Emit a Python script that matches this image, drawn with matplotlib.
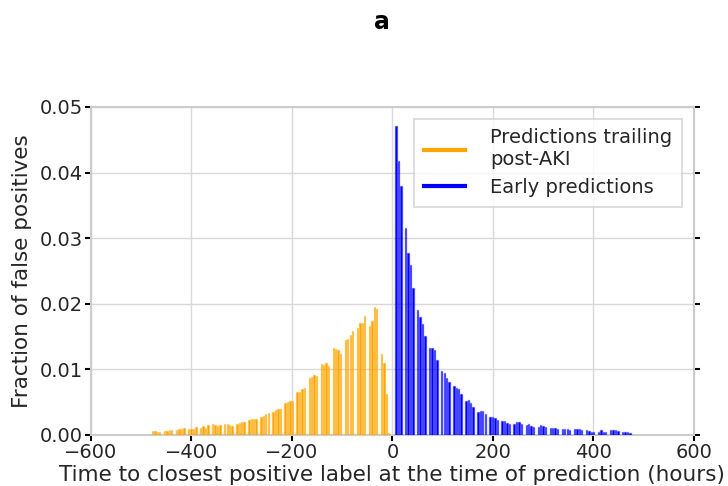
import numpy as np
import matplotlib
matplotlib.use("Agg")
import matplotlib.pyplot as plt
from matplotlib.lines import Line2D

# hours before the AKI label (trailing) and before it (early), 6-hourly samples
trailing_hours = np.arange(-480, 0, 6)
early_hours = np.arange(6, 475, 6)

trailing_frac = [
    0.00056, 0.00053, 0.00046, 0.00046,
    0.00066, 0.00056, 0.00070, 0.00076,
    0.00076, 0.00086, 0.00086, 0.00100,
    0.00096, 0.00096, 0.00096, 0.00120,
    0.00110, 0.00130, 0.00110, 0.00150,
    0.00160, 0.00150, 0.00140, 0.00150,
    0.00160, 0.00160, 0.00150, 0.00140,
    0.00170, 0.00180, 0.00200, 0.00200,
    0.00230, 0.00250, 0.00250, 0.00250,
    0.00280, 0.00290, 0.00320, 0.00340,
    0.00350, 0.00380, 0.00390, 0.00400,
    0.00490, 0.00510, 0.00520, 0.00520,
    0.00650, 0.00650, 0.00700, 0.00720,
    0.00870, 0.00880, 0.00910, 0.00900,
    0.01080, 0.01060, 0.01090, 0.01050,
    0.01320, 0.01310, 0.01290, 0.01240,
    0.01440, 0.01470, 0.01520, 0.01590,
    0.01630, 0.01700, 0.01710, 0.01820,
    0.01660, 0.01730, 0.01950, 0.01920,
    0.01240, 0.01100, 0.00620, 0.00030,
]

early_frac = [
    0.0471, 0.0417, 0.0380,
    0.0315, 0.0278, 0.0259, 0.0224,
    0.0191, 0.0180, 0.0169, 0.0151,
    0.0132, 0.0133, 0.0129, 0.0114,
    0.0097, 0.0095, 0.0087, 0.0081,
    0.0075, 0.0071, 0.0070, 0.0063,
    0.0052, 0.0053, 0.0048, 0.0042,
    0.0035, 0.0036, 0.0036, 0.0032,
    0.0028, 0.0027, 0.0026, 0.0023,
    0.0022, 0.0022, 0.0018, 0.0017,
    0.0017, 0.0020, 0.0020, 0.0017,
    0.0015, 0.0016, 0.0013, 0.0012,
    0.0012, 0.0015, 0.0013, 0.0012,
    0.0010, 0.0010, 0.0010, 0.0009,
    0.0009, 0.0009, 0.0009, 0.0008,
    0.0009, 0.0009, 0.0009, 0.0008,
    0.0007, 0.0006, 0.0005, 0.0004,
    0.0005, 0.0007, 0.0005, 0.0005,
    0.0007, 0.0007, 0.0007, 0.0006,
    0.0005, 0.0004, 0.0004, 0.0003,
]

BIN = 4.8  # 200 bins over [-480, 480]


def bin_centre(t):
    return (np.floor(t / BIN + 1e-9) + 0.5) * BIN


txt = "#262626"
plt.rcParams["font.family"] = ["DejaVu Sans"]

fig = plt.figure(figsize=(7.28, 4.86), dpi=100)
ax = fig.add_axes([0.125, 0.105, 0.828, 0.675])

ax.bar(bin_centre(trailing_hours), trailing_frac, width=2.7, color="orange",
       edgecolor=(1.0, 0.65, 0.0, 0.4), linewidth=1.0, zorder=3)
ax.bar(bin_centre(early_hours), early_frac, width=2.7, color="blue",
       edgecolor=(0.0, 0.0, 1.0, 0.4), linewidth=1.0, zorder=3)

ax.set_xlim(-600, 600)
ax.set_ylim(0, 0.05)
ax.set_xticks(np.arange(-600, 601, 200))
ax.set_yticks(np.arange(0, 0.0501, 0.01))
ax.set_yticklabels(["0.00", "0.01", "0.02", "0.03", "0.04", "0.05"])
ax.grid(True, color="#d9d9d9", linewidth=1.0, zorder=0)
ax.set_axisbelow(True)

for s in ax.spines.values():
    s.set_color("#cccccc")
    s.set_linewidth(1.5)

ax.tick_params(axis="both", direction="out", length=4, width=1.5, color="black",
               labelsize=14, labelcolor=txt, pad=2)
ax.tick_params(axis="y", right=True)

ax.set_xlabel("Time to closest positive label at the time of prediction (hours)",
              fontsize=15.5, color=txt, labelpad=2)
ax.set_ylabel("Fraction of false positives", fontsize=15.5, color=txt, labelpad=5)

handles = [Line2D([], [], color="orange", lw=3),
           Line2D([], [], color="blue", lw=3)]
leg = ax.legend(handles, ["Predictions trailing\npost-AKI", "Early predictions"],
                loc="upper right", fontsize=14, frameon=True, fancybox=False,
                borderaxespad=0.6, handlelength=2.1, handletextpad=1.3,
                labelspacing=0.45, borderpad=0.5)
leg.get_frame().set_edgecolor("#cccccc")
leg.get_frame().set_linewidth(1.2)
for t in leg.get_texts():
    t.set_color(txt)

fig.text(0.525, 0.955, "a", fontsize=17, fontweight="bold", ha="center", va="center",
         color="black")

fig.savefig("out.png", dpi=100)
